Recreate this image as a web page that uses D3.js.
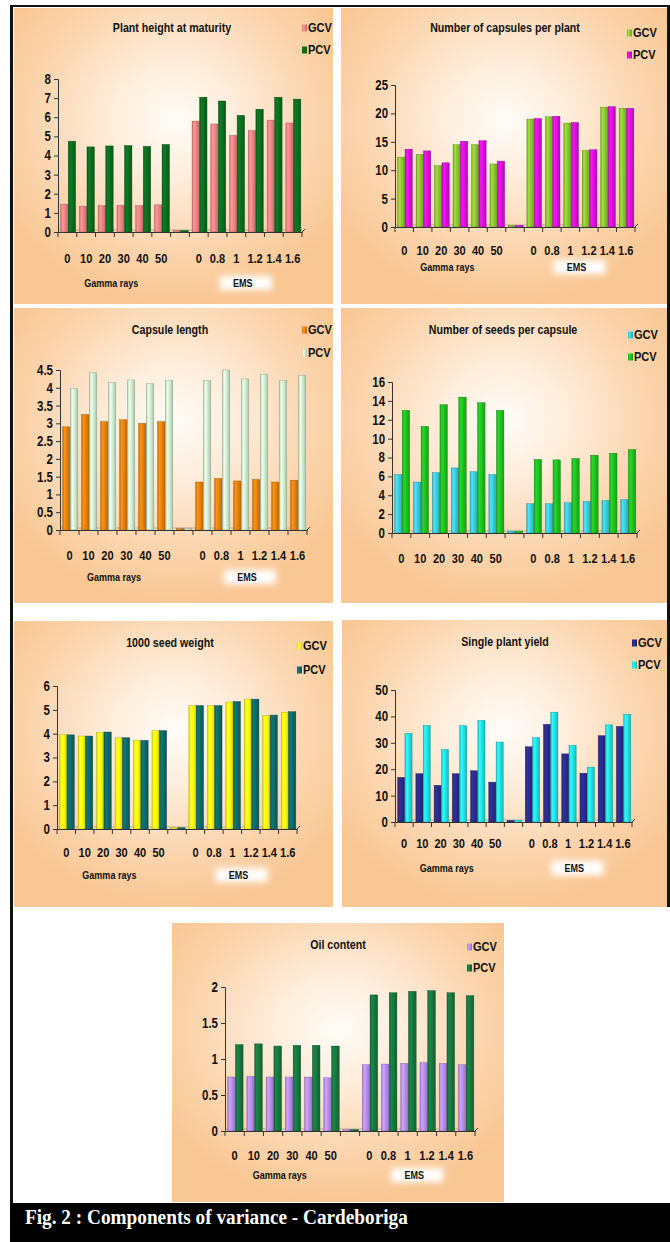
<!DOCTYPE html>
<html>
<head>
<meta charset="utf-8">
<script src="https://cdn.jsdelivr.net/npm/d3@7"></script>
<style>
  html, body { margin: 0; padding: 0; background: #fff; }
  svg { display: block; }
  .lbl { font-family: "Liberation Sans", Arial, sans-serif; font-weight: bold; fill: #111; }
  .caption { font-family: "Liberation Serif", "Times New Roman", serif; font-weight: bold; fill: #fff; }
</style>
</head>
<body>
<div id="fig"></div>
<script>
// ==============================
// DATOS
// ==============================

// categorías: dosis de rayos gamma, hueco, dosis de EMS
const categories = ["0", "10", "20", "30", "40", "50", "", "0 ", "0.8", "1", "1.2", "1.4", "1.6"];

const plantHeightGCV = [1.45, 1.35, 1.38, 1.4, 1.38, 1.42, 0.08, 5.8, 5.65, 5.05, 5.3, 5.85, 5.7];
const plantHeightPCV = [4.75, 4.45, 4.5, 4.52, 4.48, 4.58, 0.08, 7.05, 6.85, 6.1, 6.42, 7.05, 6.95];
const plantHeightTicks = [0, 1, 2, 3, 4, 5, 6, 7, 8];

const capsulesGCV = [12.3, 12.8, 10.8, 14.5, 14.5, 11.1, 0.3, 19.0, 19.4, 18.3, 13.5, 21.1, 20.9];
const capsulesPCV = [13.7, 13.4, 11.3, 15.1, 15.2, 11.6, 0.3, 19.1, 19.5, 18.4, 13.6, 21.2, 20.9];
const capsulesTicks = [0, 5, 10, 15, 20, 25];

const capsuleLengthGCV = [2.9, 3.25, 3.05, 3.1, 3.0, 3.05, 0.04, 1.35, 1.45, 1.38, 1.42, 1.35, 1.4];
const capsuleLengthPCV = [3.97, 4.42, 4.15, 4.22, 4.12, 4.2, 0.04, 4.2, 4.5, 4.25, 4.38, 4.2, 4.35];
const capsuleLengthTicks = [0, 0.5, 1, 1.5, 2, 2.5, 3, 3.5, 4, 4.5];

const seedsGCV = [6.2, 5.4, 6.4, 6.9, 6.5, 6.2, 0.2, 3.1, 3.1, 3.2, 3.35, 3.45, 3.55];
const seedsPCV = [13.0, 11.3, 13.6, 14.4, 13.8, 13.0, 0.2, 7.8, 7.75, 7.9, 8.25, 8.45, 8.85];
const seedsTicks = [0, 2, 4, 6, 8, 10, 12, 14, 16];

const seedWeightGCV = [3.95, 3.9, 4.06, 3.83, 3.72, 4.12, 0.05, 5.17, 5.17, 5.33, 5.45, 4.77, 4.9];
const seedWeightPCV = [3.95, 3.9, 4.07, 3.83, 3.72, 4.13, 0.05, 5.18, 5.18, 5.35, 5.45, 4.78, 4.92];
const seedWeightTicks = [0, 1, 2, 3, 4, 5, 6];

const yieldGCV = [16.9, 18.3, 13.9, 18.3, 19.4, 15.1, 0.6, 28.5, 37.0, 25.8, 18.5, 32.7, 36.2];
const yieldPCV = [33.6, 36.6, 27.5, 36.5, 38.5, 30.3, 0.6, 32.0, 41.6, 29.1, 20.8, 36.8, 40.8];
const yieldTicks = [0, 10, 20, 30, 40, 50];

const oilGCV = [0.75, 0.76, 0.75, 0.75, 0.75, 0.74, 0.02, 0.92, 0.93, 0.94, 0.95, 0.94, 0.92];
const oilPCV = [1.2, 1.21, 1.18, 1.19, 1.19, 1.18, 0.02, 1.89, 1.92, 1.94, 1.95, 1.92, 1.88];
const oilTicks = [0, 0.5, 1, 1.5, 2];

const seriesNames = ["GCV", "PCV"];
const groupNames = ["Gamma rays", "EMS"];
const captionText = "Fig. 2 : Components of variance - Cardeboriga";

// ==============================
// SVG BASE
// ==============================

const W = 670, H = 1242;
const NARROW = 0.82;   // simula la fuente "Arial Narrow"
const svg = d3.select("#fig").append("svg").attr("width", W).attr("height", H);
const defs = svg.append("defs");

// brillo radial del fondo de cada panel
const glow = defs.append("radialGradient").attr("id", "glow")
  .attr("cx", 0.5).attr("cy", 0.38).attr("r", 0.62);
glow.append("stop").attr("offset", "0%").attr("stop-color", "#fffcf8");
glow.append("stop").attr("offset", "30%").attr("stop-color", "#feeedd");
glow.append("stop").attr("offset", "70%").attr("stop-color", "#fbd5ae");
glow.append("stop").attr("offset", "100%").attr("stop-color", "#f9c794");

const blur = defs.append("filter").attr("id", "blur").attr("x", "-30%").attr("y", "-60%").attr("width", "160%").attr("height", "220%");
blur.append("feGaussianBlur").attr("stdDeviation", 3);

// gradiente horizontal que simula la columna 3D
function barGradient(id, base) {
  const c = d3.color(base);
  const g = defs.append("linearGradient").attr("id", id).attr("x1", 0).attr("x2", 1).attr("y1", 0).attr("y2", 0);
  g.append("stop").attr("offset", "0%").attr("stop-color", c.darker(0.5));
  g.append("stop").attr("offset", "25%").attr("stop-color", c.brighter(0.35));
  g.append("stop").attr("offset", "55%").attr("stop-color", c);
  g.append("stop").attr("offset", "100%").attr("stop-color", c.darker(0.6));
  return `url(#${id})`;
}

// texto estrecho colocado en (x, y)
function narrowText(parent, x, y, txt, size, anchor) {
  return parent.append("text").attr("class", "lbl")
    .attr("transform", `translate(${x},${y}) scale(${NARROW},1)`)
    .attr("text-anchor", anchor || "start").attr("dominant-baseline", "central")
    .attr("font-size", size).text(txt);
}

// marco negro
svg.append("rect").attr("x", 10).attr("y", 5).attr("width", 660).attr("height", 2).attr("fill", "#111");
svg.append("rect").attr("x", 10).attr("y", 5).attr("width", 3).attr("height", 1200).attr("fill", "#111");
svg.append("rect").attr("x", 667).attr("y", 5).attr("width", 3).attr("height", 902).attr("fill", "#111");

// ==============================
// PANEL GENÉRICO
// ==============================

function drawPanel(cfg) {
  const g = svg.append("g");
  g.append("rect").attr("x", cfg.box[0]).attr("y", cfg.box[1])
    .attr("width", cfg.box[2]).attr("height", cfg.box[3]).attr("fill", "url(#glow)");

  const x = d3.scaleBand().domain(categories).range([cfg.x0, cfg.x1]).padding(0);
  const xs = d3.scaleBand().domain(seriesNames).range([2.5, x.bandwidth() - 1]).padding(0.02);
  const y = d3.scaleLinear().domain([0, d3.max(cfg.ticks)]).range([cfg.y0, cfg.yTop]);

  const fills = [barGradient(cfg.id + "g", cfg.colors[0]), barGradient(cfg.id + "p", cfg.colors[1])];
  const rows = categories.map((c, i) => ({ cat: c, vals: [cfg.gcv[i], cfg.pcv[i]] }));

  // línea del piso
  g.append("line").attr("x1", cfg.x0).attr("x2", cfg.x1).attr("y1", cfg.y0 - 2).attr("y2", cfg.y0 - 2)
    .attr("stroke", "#b8a898").attr("stroke-width", 1);

  // barras
  g.selectAll("g.cat").data(rows).join("g").attr("class", "cat")
    .attr("transform", d => `translate(${x(d.cat)},0)`)
    .selectAll("rect").data(d => d.vals.map((v, k) => ({ s: seriesNames[k], v, k })))
    .join("rect")
    .attr("x", d => xs(d.s))
    .attr("width", xs.bandwidth())
    .attr("y", d => y(d.v))
    .attr("height", d => y(0) - y(d.v))
    .attr("fill", d => fills[d.k])
    .attr("stroke", d => d3.color(cfg.colors[d.k]).darker(1.2))
    .attr("stroke-width", 0.4);

  // eje Y
  const yAxis = g.append("g").attr("transform", `translate(${cfg.x0},0)`)
    .call(d3.axisLeft(y).tickValues(cfg.ticks).tickSize(4).tickPadding(3).tickFormat(d3.format("")));
  yAxis.select(".domain").attr("stroke", "#333");
  yAxis.selectAll(".tick line").attr("stroke", "#333");
  yAxis.selectAll("text").attr("class", "lbl").attr("font-size", 14).attr("fill", "#111")
    .attr("x", -7 / NARROW).attr("transform", `scale(${NARROW},1)`);

  // eje X: etiquetas centradas
  const xAxis = g.append("g").attr("transform", `translate(0,${cfg.y0})`)
    .call(d3.axisBottom(x).tickSize(0).tickPadding(cfg.labelY - cfg.y0 - 5));
  xAxis.select(".domain").attr("stroke", "#333");
  xAxis.selectAll("text").attr("class", "lbl").attr("font-size", 13.5).attr("fill", "#111")
    .attr("transform", `scale(${NARROW},1)`);

  // marcas en los límites de cada categoría
  const bounds = d3.range(categories.length + 1).map(i => cfg.x0 + i * x.step());
  g.selectAll("line.bt").data(bounds).join("line").attr("class", "bt")
    .attr("x1", d => d).attr("x2", d => d).attr("y1", cfg.y0).attr("y2", cfg.y0 + 5)
    .attr("stroke", "#333");
  g.append("line").attr("x1", cfg.x1).attr("x2", cfg.x1 + 3).attr("y1", cfg.y0).attr("y2", cfg.y0 - 3).attr("stroke", "#333");

  // título
  narrowText(g, cfg.title[1], cfg.title[2], cfg.title[0], 13, "middle");

  // leyenda
  seriesNames.forEach((s, k) => {
    const ly = cfg.legend[1] + k * cfg.legend[2];
    g.append("rect").attr("x", cfg.legend[0]).attr("y", ly - 3.5).attr("width", 5).attr("height", 7)
      .attr("fill", fills[k]);
    narrowText(g, cfg.legend[0] + 6, ly, s, 13.5);
  });

  // nombres de los grupos
  if (cfg.groupY) {
    const gx = [
      (x(categories[0]) + x(categories[5]) + x.bandwidth()) / 2,
      (x(categories[7]) + x(categories[12]) + x.bandwidth()) / 2
    ];
    g.append("rect").attr("x", gx[1] - 26).attr("y", cfg.groupY - 7).attr("width", 52).attr("height", 14)
      .attr("fill", "#fff").attr("filter", "url(#blur)");
    groupNames.forEach((n, k) => {
      narrowText(g, gx[k] - 3, cfg.groupY, n, 11, "middle").attr("fill", "#222");
    });
  }
}

// ==============================
// PANELES
// ==============================

drawPanel({ id: "ph", box: [14, 8, 319, 296], x0: 58, x1: 302, y0: 232, yTop: 79, labelY: 258, groupY: 283,
  ticks: plantHeightTicks, gcv: plantHeightGCV, pcv: plantHeightPCV, colors: ["#f08484", "#0b6e1f"],
  title: ["Plant height at maturity", 172, 28], legend: [302, 28, 22] });

drawPanel({ id: "cp", box: [341, 8, 326, 296], x0: 395, x1: 635, y0: 227, yTop: 85, labelY: 250, groupY: 267,
  ticks: capsulesTicks, gcv: capsulesGCV, pcv: capsulesPCV, colors: ["#8cc832", "#dd10dd"],
  title: ["Number of capsules per plant", 505, 28], legend: [627, 33, 22] });

drawPanel({ id: "cl", box: [14, 308, 319, 295], x0: 60, x1: 307, y0: 530, yTop: 370, labelY: 555, groupY: 577,
  ticks: capsuleLengthTicks, gcv: capsuleLengthGCV, pcv: capsuleLengthPCV, colors: ["#e8820c", "#d2efd2"],
  title: ["Capsule length", 170, 330], legend: [302, 330, 23] });

drawPanel({ id: "sc", box: [341, 308, 326, 295], x0: 392, x1: 637, y0: 533, yTop: 382, labelY: 558, groupY: null,
  ticks: seedsTicks, gcv: seedsGCV, pcv: seedsPCV, colors: ["#3ccde0", "#1fc21f"],
  title: ["Number of seeds per capsule", 503, 330], legend: [628, 335, 22] });

drawPanel({ id: "sw", box: [14, 621, 319, 286], x0: 57, x1: 297, y0: 829, yTop: 686, labelY: 852, groupY: 875,
  ticks: seedWeightTicks, gcv: seedWeightGCV, pcv: seedWeightPCV, colors: ["#ffff14", "#0e6a6a"],
  title: ["1000 seed weight", 170, 643], legend: [297, 646, 24] });

drawPanel({ id: "yl", box: [342, 620, 325, 287], x0: 395, x1: 632, y0: 822, yTop: 690, labelY: 843, groupY: 868,
  ticks: yieldTicks, gcv: yieldGCV, pcv: yieldPCV, colors: ["#2b2b8c", "#22e3e3"],
  title: ["Single plant yield", 505, 642], legend: [632, 643, 22] });

drawPanel({ id: "oc", box: [172, 923, 332, 279], x0: 225, x1: 475, y0: 1131, yTop: 987, labelY: 1155, groupY: 1175,
  ticks: oilTicks, gcv: oilGCV, pcv: oilPCV, colors: ["#b98ff0", "#17783f"],
  title: ["Oil content", 338, 945], legend: [467, 947, 21] });

// ==============================
// PIE DE FIGURA
// ==============================

svg.append("rect").attr("x", 10).attr("y", 1203).attr("width", 660).attr("height", 39).attr("fill", "#000");
svg.append("text").attr("class", "caption")
  .attr("transform", "translate(25,1224) scale(0.94,1)")
  .attr("font-size", 20.5).text(captionText);
</script>
</body>
</html>
